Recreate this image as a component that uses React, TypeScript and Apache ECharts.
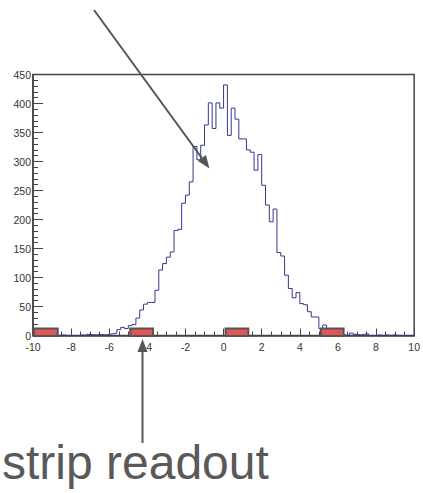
import React, { useEffect, useRef } from 'react';
import * as echarts from 'echarts';

// Histogram: 100 bins from -10 to 10
const X_MIN = -10;
const X_MAX = 10;
const BIN_WIDTH = 0.2;
const counts = [
  0, 0, 0, 0, 0, 0, 0, 1, 0, 0,
  0, 0, 1, 0, 2, 1, 1, 2, 1, 2,
  3, 4, 10, 14, 12, 17, 19, 30, 44, 54,
  57, 57, 78, 113, 124, 135, 144, 181, 183, 228,
  242, 265, 326, 303, 328, 363, 401, 357, 401, 392,
  432, 345, 392, 373, 339, 339, 320, 316, 285, 312,
  259, 225, 196, 218, 143, 137, 104, 81, 65, 74,
  55, 53, 41, 32, 32, 12, 18, 5, 3, 2,
  3, 1, 0, 4, 2, 1, 2, 3, 0, 0,
  1, 0, 1, 0, 1, 0, 0, 0, 0, 0,
];
const Y_MIN = 0;
const Y_MAX = 450;
const Y_INTERVAL = 50;
const X_INTERVAL = 2;

// strip readout pads along the x axis: [start, end]
const stripStarts = [-10, -4.95, 0.05, 5.05];
const stripEnds = [-8.65, -3.65, 1.35, 6.35];

const annotationText = 'strip readout';

export default function App() {
  const ref = useRef<HTMLDivElement>(null);

  useEffect(() => {
    if (!ref.current) return;
    const chart = echarts.init(ref.current, null, { renderer: 'svg' });

    const histData: number[][] = counts.map((c, i) => [X_MIN + i * BIN_WIDTH, c]);
    histData.push([X_MAX, counts[counts.length - 1]]);
    const stripData = stripStarts.map((s, i) => [s, stripEnds[i]]);

    const axisColor = '#444';
    const labelStyle = { color: '#333', fontSize: 10.5, fontFamily: 'Liberation Sans' };

    // arrow geometry (annotation, pixels)
    const a1 = { x1: 94, y1: 10, x2: 209.5, y2: 168.5 };
    const dx = a1.x2 - a1.x1, dy = a1.y2 - a1.y1;
    const len = Math.sqrt(dx * dx + dy * dy);
    const ux = dx / len, uy = dy / len;
    const headL = 13, headW = 5;
    const bx = a1.x2 - ux * headL, by = a1.y2 - uy * headL;

    const option: any = {
      animation: false,
      backgroundColor: '#fff',
      grid: {
        left: 33,
        right: 4.5,
        top: 74.5,
        bottom: 157.5,
        show: true,
        borderColor: axisColor,
        borderWidth: 1.5,
        backgroundColor: 'transparent',
      },
      xAxis: {
        type: 'value',
        min: X_MIN,
        max: X_MAX,
        interval: X_INTERVAL,
        axisLine: { show: true, onZero: false, lineStyle: { color: axisColor, width: 1.5 } },
        axisTick: { show: true, inside: true, length: 7, lineStyle: { color: axisColor } },
        minorTick: { show: true, splitNumber: 4, length: 4, lineStyle: { color: axisColor } },
        splitLine: { show: false },
        axisLabel: { ...labelStyle, margin: 5.5, showMinLabel: true, showMaxLabel: true },
      },
      yAxis: {
        type: 'value',
        min: Y_MIN,
        max: Y_MAX,
        interval: Y_INTERVAL,
        axisLine: { show: true, onZero: false, lineStyle: { color: axisColor, width: 1.5 } },
        axisTick: { show: true, inside: true, length: 10, lineStyle: { color: axisColor } },
        minorTick: { show: true, splitNumber: 5, length: 5, lineStyle: { color: axisColor } },
        splitLine: { show: false },
        axisLabel: { ...labelStyle, margin: 2 },
      },
      series: [
        {
          type: 'line',
          data: histData,
          step: 'end',
          symbol: 'none',
          lineStyle: { color: '#36368e', width: 1 },
          z: 3,
        },
        {
          type: 'custom',
          data: stripData,
          clip: false,
          z: 5,
          renderItem: (params: any, api: any) => {
            const p0 = api.coord([api.value(0), 0]);
            const p1 = api.coord([api.value(1), 0]);
            return {
              type: 'rect',
              shape: { x: p0[0] + 1, y: p0[1] - 7, width: p1[0] - p0[0] - 2, height: 7.5 },
              style: { fill: '#e05656', stroke: '#555', lineWidth: 2 },
            };
          },
        },
      ],
      graphic: [
        {
          type: 'line',
          z: 100,
          shape: { x1: a1.x1, y1: a1.y1, x2: bx, y2: by },
          style: { stroke: '#555', lineWidth: 2 },
        },
        {
          type: 'polygon',
          z: 100,
          shape: {
            points: [
              [a1.x2, a1.y2],
              [bx - uy * headW, by + ux * headW],
              [bx + uy * headW, by - ux * headW],
            ],
          },
          style: { fill: '#555' },
        },
        {
          type: 'line',
          z: 100,
          shape: { x1: 142.5, y1: 443, x2: 142.5, y2: 351 },
          style: { stroke: '#555', lineWidth: 2 },
        },
        {
          type: 'polygon',
          z: 100,
          shape: { points: [[142.5, 339], [137.5, 352], [147.5, 352]] },
          style: { fill: '#555' },
        },
        {
          type: 'text',
          z: 100,
          x: 2,
          y: 462,
          style: {
            text: annotationText,
            font: '48px "Liberation Sans"',
            fill: '#595959',
            textAlign: 'left',
            verticalAlign: 'middle',
          },
        },
      ],
    };
    chart.setOption(option);
    return () => chart.dispose();
  }, []);

  return (
    <div
      ref={ref}
      style={{ position: 'fixed', left: 0, top: 0, width: 423, height: 493, background: '#fff' }}
    />
  );
}
